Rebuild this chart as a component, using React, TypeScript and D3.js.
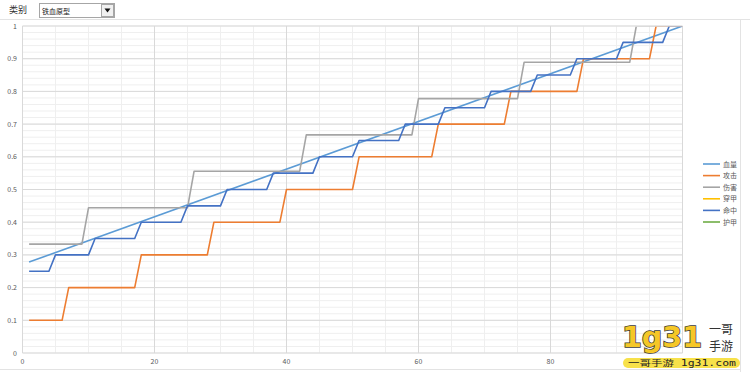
import React from "react";
import * as d3 from "d3";

const seriesNames = ["血量", "攻击", "伤害", "穿甲", "命中", "护甲"];
const seriesColors = ["#5B9BD5", "#ED7D31", "#A5A5A5", "#FFC000", "#4472C4", "#70AD47"];

// [level, value] vertices
const hpPoints: [number, number][] = [[1, 0.278], [100, 1.0]];
const atkPoints: [number, number][] = [
  [1, 0.1], [6, 0.1], [7, 0.2], [17, 0.2], [18, 0.3], [28, 0.3], [29, 0.4], [39, 0.4],
  [40, 0.5], [50, 0.5], [51, 0.6], [62, 0.6], [63, 0.7], [73, 0.7], [74, 0.8], [84, 0.8],
  [85, 0.9], [95, 0.9], [96, 1.0], [100, 1.0],
];
const dmgPoints: [number, number][] = [
  [1, 0.333], [9, 0.333], [10, 0.444], [25, 0.444], [26, 0.556], [42, 0.556], [43, 0.667],
  [59, 0.667], [60, 0.778], [75, 0.778], [76, 0.889], [92, 0.889], [93, 1.0], [100, 1.0],
];
const penPoints: [number, number][] = [];
const hitPoints: [number, number][] = [
  [1, 0.25], [4, 0.25], [5, 0.3], [10, 0.3], [11, 0.35], [17, 0.35], [18, 0.4], [24, 0.4],
  [25, 0.45], [30, 0.45], [31, 0.5], [37, 0.5], [38, 0.55], [44, 0.55], [45, 0.6], [50, 0.6],
  [51, 0.65], [57, 0.65], [58, 0.7], [63, 0.7], [64, 0.75], [70, 0.75], [71, 0.8], [77, 0.8],
  [78, 0.85], [83, 0.85], [84, 0.9], [90, 0.9], [91, 0.95], [97, 0.95], [98, 1.0], [100, 1.0],
];
const armPoints: [number, number][] = [];
const allSeries = [hpPoints, atkPoints, dmgPoints, penPoints, hitPoints, armPoints];

const xTicks = [0, 20, 40, 60, 80];
const yTicks = [0, 0.1, 0.2, 0.3, 0.4, 0.5, 0.6, 0.7, 0.8, 0.9, 1];
const filterLabel = "类别";
const filterValue = "铁血原型";

export default function App() {
  const x = d3.scaleLinear().domain([0, 100]).range([22.5, 682.5]);
  const y = d3.scaleLinear().domain([0, 1]).range([353, 26]);
  const line = d3.line<[number, number]>().x((d) => x(d[0])).y((d) => y(d[1]));
  const minorY = d3.range(0, 1.0001, 0.02);
  const minorX = d3.range(0, 100.001, 5);
  const majorX = d3.range(0, 100.001, 20);
  const font = "'Noto Sans CJK SC', 'Noto Sans', sans-serif";
  const legendY = (i: number) => 164 + i * 11.6;

  return (
    <svg width={750} height={372} style={{ position: "absolute", left: 0, top: 0, background: "#fff" }} fontFamily={font}>
      <defs>
        <clipPath id="plotClip">
          <rect x={x(0)} y={y(1) + 0.8} width={x(100) - x(0)} height={y(0) - y(1) - 0.8} />
        </clipPath>
      </defs>
      {/* header */}
      <text x={9} y={13} fontSize={9} fill="#333">{filterLabel}</text>
      <rect x={39.5} y={3.5} width={75} height={14} fill="#fff" stroke="#a6a6a6" />
      <text x={42} y={13.5} fontSize={7} fill="#222">{filterValue}</text>
      <rect x={101.5} y={4.5} width={12} height={12} fill="#f0f0f0" stroke="#a6a6a6" />
      <path d="M104.5,8.5 L110.5,8.5 L107.5,12.5 Z" fill="#111" />
      <line x1={0} x2={750} y1={19.5} y2={19.5} stroke="#e3e3e3" />
      <line x1={740.5} x2={740.5} y1={19.5} y2={372} stroke="#e3e3e3" />
      <line x1={0} x2={740} y1={369.5} y2={369.5} stroke="#e3e3e3" />

      {/* grid */}
      {minorY.map((v, i) => (
        <line key={"my" + i} x1={x(0)} x2={x(100)} y1={y(v)} y2={y(v)} stroke="#efefef" strokeWidth={1} />
      ))}
      {minorX.map((v, i) => (
        <line key={"mx" + i} x1={x(v)} x2={x(v)} y1={y(0)} y2={y(1)} stroke="#efefef" strokeWidth={1} />
      ))}
      {yTicks.map((v, i) => (
        <line key={"gy" + i} x1={x(0)} x2={x(100)} y1={y(v)} y2={y(v)} stroke="#d9d9d9" strokeWidth={1} />
      ))}
      {majorX.map((v, i) => (
        <line key={"gx" + i} x1={x(v)} x2={x(v)} y1={y(0)} y2={y(1)} stroke="#d9d9d9" strokeWidth={1} />
      ))}

      {/* axis labels */}
      {yTicks.map((v, i) => (
        <text key={"yl" + i} x={17} y={y(v) + 2.5} fontSize={7} fill="#595959" textAnchor="end">
          {d3.format("~g")(v)}
        </text>
      ))}
      {xTicks.map((v, i) => (
        <text key={"xl" + i} x={x(v)} y={364} fontSize={7} fill="#595959" textAnchor="middle">
          {v}
        </text>
      ))}

      {/* series */}
      <g clipPath="url(#plotClip)">
        {allSeries.map((pts, i) =>
          pts.length ? (
            <path key={"s" + i} d={line(pts) || ""} fill="none" stroke={seriesColors[i]} strokeWidth={1.6} strokeLinejoin="round" />
          ) : null
        )}
      </g>

      {/* legend */}
      {seriesNames.map((n, i) => (
        <g key={"lg" + i}>
          <line x1={703} x2={720} y1={legendY(i)} y2={legendY(i)} stroke={seriesColors[i]} strokeWidth={1.6} />
          <text x={723} y={legendY(i) + 2.5} fontSize={7} fill="#595959">{n}</text>
        </g>
      ))}

      {/* watermark */}
      <g>
        <rect x={623} y={358} width={117} height={10} rx={5} fill="#F7E14A" />
        <text x={628} y={366} fontSize={8} fill="#222" textLength={108} lengthAdjust="spacingAndGlyphs" fontFamily="'DejaVu Sans Mono', 'Noto Sans CJK SC', monospace">一哥手游 1g31.com</text>
        <text x={622} y={347} fontSize={28} fontWeight="bold" fill="#F5C727" stroke="#3a3a3a" strokeWidth={1.5} textLength={80} lengthAdjust="spacingAndGlyphs" fontFamily="'DejaVu Sans', sans-serif" paintOrder="stroke">1g31</text>
        <text x={709} y={334} fontSize={12} fill="#333" fontFamily="'Noto Sans CJK SC', sans-serif">一哥</text>
        <text x={709} y={351} fontSize={12} fill="#333" fontFamily="'Noto Sans CJK SC', sans-serif">手游</text>
      </g>
    </svg>
  );
}
